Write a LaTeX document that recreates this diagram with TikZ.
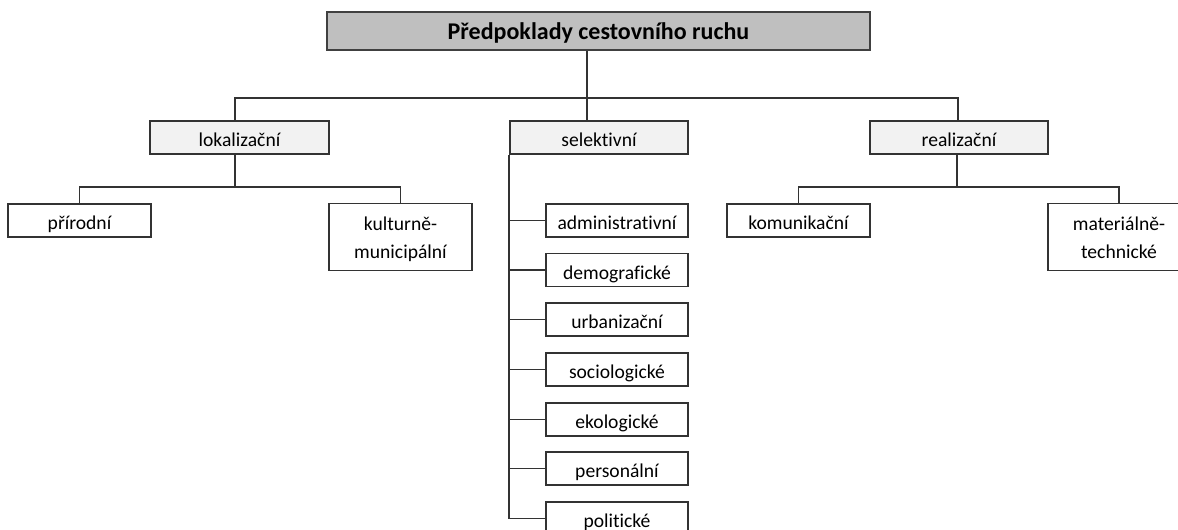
\documentclass[tikz,border=0pt]{standalone}
\usepackage{fontspec}
\setmainfont[Ligatures={NoCommon}]{Carlito}

\tikzset{
  rootbox/.style={draw=black!75, fill=black!25, line width=1.8pt, inner sep=0pt,
    minimum width=407.25pt, minimum height=28.5pt, text height=13.5pt, text depth=0pt,
    font=\fontsize{18}{21}\selectfont\bfseries},
  groupbox/.style={draw=black!80, fill=black!5, line width=1.4pt, inner sep=0pt,
    minimum width=134pt, minimum height=24.75pt, text height=13pt, text depth=0pt,
    font=\fontsize{14.7}{21}\selectfont},
  leafbox/.style={draw=black!80, fill=white, line width=1.4pt, inner sep=0pt,
    minimum width=107pt, minimum height=24.75pt, text height=14pt, text depth=0pt,
    font=\fontsize{14.7}{21}\selectfont},
  tallbox/.style={leafbox, align=center, minimum height=50.25pt, text height=33pt, text depth=0pt},
  link/.style={draw=black!80, line width=1.4pt}
}

\begin{document}
\begin{tikzpicture}[x=0.75pt,y=0.75pt,yscale=-1,xscale=1]
\useasboundingbox (0,0) rectangle (1178,530);

% Text Node
\draw (598.5,31) node [rootbox] (root) {Předpoklady cestovního ruchu};
% Text Node
\draw (239.5,137.5) node [groupbox] (lok) {lokalizační};
% Text Node
\draw (599,137.5) node [groupbox] (sel) {selektivní};
% Text Node
\draw (959,137.5) node [groupbox] (real) {realizační};
% Text Node
\draw (79.5,220.5) node [leafbox] (prir) {přírodní};
% Text Node
\draw (400.5,237) node [tallbox] (kult) {kulturně-\\municipální};
% Text Node
\draw (798.5,220.5) node [leafbox] (komu) {komunikační};
% Text Node
\draw (1119,237) node [tallbox] (mate) {materiálně-\\technické};
% Text Node
\draw (617,220.5) node [leafbox, minimum width=106.5pt] (admin) {administrativní};
% Text Node
\draw (617,270) node [leafbox, minimum width=106.5pt] (demo) {demografické};
% Text Node
\draw (617,319.5) node [leafbox, minimum width=106.5pt] (urb) {urbanizační};
% Text Node
\draw (617,369.5) node [leafbox, minimum width=106.5pt] (soc) {sociologické};
% Text Node
\draw (617,419.5) node [leafbox, minimum width=106.5pt] (eko) {ekologické};
% Text Node
\draw (617,468.5) node [leafbox, minimum width=106.5pt] (pers) {personální};
% Text Node
\draw (617,518.5) node [leafbox, minimum width=106.5pt] (pol) {politické};

% bus junctions
\coordinate (busL) at (235,98);
\coordinate (busS) at (587,98);
\coordinate (busR) at (958,98);
\coordinate (lokJ) at (235,187);
\coordinate (realJ) at (957,187);

%Straight Lines
\draw [link] (busS |- root.south) -- (busS |- sel.north) ;
%Straight Lines
\draw [link] (busL |- lok.north) -- (busL) -- (busR) -- (busR |- real.north) ;

%Straight Lines
\draw [link] (lokJ |- lok.south) -- (lokJ) ;
%Straight Lines
\draw [link] (prir.north) |- (lokJ) -| (kult.north) ;

%Straight Lines
\draw [link] (realJ |- real.south) -- (realJ) ;
%Straight Lines
\draw [link] (komu.north) |- (realJ) -| (mate.north) ;

%Straight Lines
\draw [link] (sel.south west) |- (pol.west) ;
%Straight Lines
\draw [link] (sel.south west |- admin.west) -- (admin.west) ;
%Straight Lines
\draw [link] (sel.south west |- demo.west) -- (demo.west) ;
%Straight Lines
\draw [link] (sel.south west |- urb.west) -- (urb.west) ;
%Straight Lines
\draw [link] (sel.south west |- soc.west) -- (soc.west) ;
%Straight Lines
\draw [link] (sel.south west |- eko.west) -- (eko.west) ;
%Straight Lines
\draw [link] (sel.south west |- pers.west) -- (pers.west) ;

\end{tikzpicture}
\end{document}
